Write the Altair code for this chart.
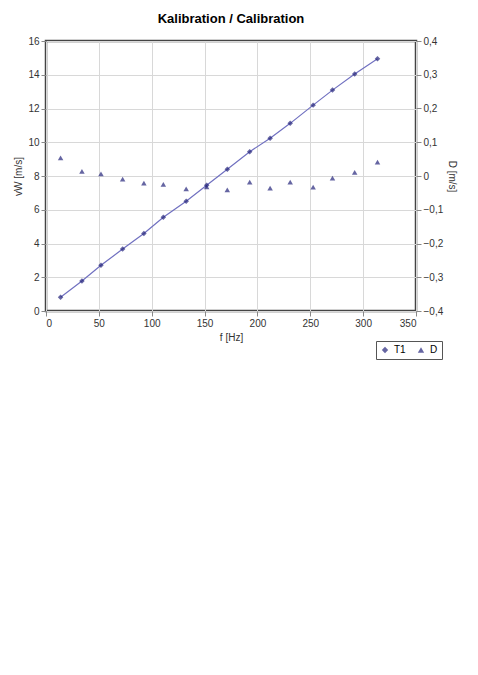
import altair as alt
import pandas as pd

# Values
f_hz = [13.8, 34.0, 52.0, 72.5, 92.6, 111.0, 132.6, 152.0, 171.5, 192.7, 212.0, 231.0, 252.7, 271.0, 292.0, 313.6]
v_ms = [0.82, 1.78, 2.71, 3.67, 4.59, 5.56, 6.51, 7.45, 8.40, 9.44, 10.24, 11.12, 12.20, 13.09, 14.04, 14.95]
dev_ms = [0.054, 0.014, 0.006, -0.009, -0.021, -0.025, -0.038, -0.032, -0.041, -0.018, -0.036, -0.018, -0.033, -0.006, 0.011, 0.041]
series_names = ["T1", "D"]

t1 = pd.DataFrame({"f": f_hz, "v": v_ms, "series": series_names[0]})
dd = pd.DataFrame({"f": f_hz, "d": dev_ms, "series": series_names[1]})

navy = "#23237a"
x_enc = alt.X("f:Q", title="f [Hz]", scale=alt.Scale(domain=[0, 350], nice=False),
              axis=alt.Axis(values=list(range(0, 351, 50)), grid=True))
left_y = alt.Y("v:Q", title="vW [m/s]", scale=alt.Scale(domain=[0, 16], nice=False),
               axis=alt.Axis(values=list(range(0, 17, 2)), grid=True, orient="left"))
right_y = alt.Y("d:Q", title="D [m/s]", scale=alt.Scale(domain=[-0.4, 0.4], nice=False),
                axis=alt.Axis(values=[-0.4, -0.3, -0.2, -0.1, 0, 0.1, 0.2, 0.3, 0.4], grid=False, orient="right",
                              labelExpr="abs(datum.value) < 1e-9 ? '0' : replace(format(datum.value, '.1f'), '.', ',')"))

color_scale = alt.Scale(domain=series_names, range=[navy, navy])
shape_scale = alt.Scale(domain=series_names, range=["diamond", "triangle-up"])
legend = alt.Legend(title=None, orient="none", direction="horizontal", legendX=330, legendY=300,
                    strokeColor="#555", padding=4, labelFontSize=10, symbolSize=40)

line = alt.Chart(t1).mark_line(color="#7070c0", strokeWidth=1.2).encode(x=x_enc, y=left_y)
pts1 = alt.Chart(t1).mark_point(filled=True, size=30).encode(
    x=x_enc, y=left_y,
    color=alt.Color("series:N", scale=color_scale, legend=legend),
    shape=alt.Shape("series:N", scale=shape_scale, legend=legend))
left_layer = alt.layer(line, pts1)
right_layer = alt.Chart(dd).mark_point(filled=True, size=30).encode(
    x=x_enc, y=right_y,
    color=alt.Color("series:N", scale=color_scale, legend=legend),
    shape=alt.Shape("series:N", scale=shape_scale, legend=legend))

chart = alt.layer(left_layer, right_layer).resolve_scale(y="independent").properties(
    width=370, height=270,
    title=alt.TitleParams("Kalibration / Calibration", fontSize=13, fontWeight="bold", font="Liberation Sans", offset=10),
    background="white",
).configure_view(stroke="#444", strokeWidth=2.5).configure_axis(
    gridColor="#d8d8d8", labelFont="Liberation Sans", titleFont="Liberation Sans",
    labelFontSize=10, titleFontSize=10, titleFontWeight="normal", labelColor="#333", titleColor="#333",
    domain=False, tickColor="#888"
).configure_legend(labelFont="Liberation Sans")

chart.save("out.html", embed_options={"renderer": "svg", "actions": False})
